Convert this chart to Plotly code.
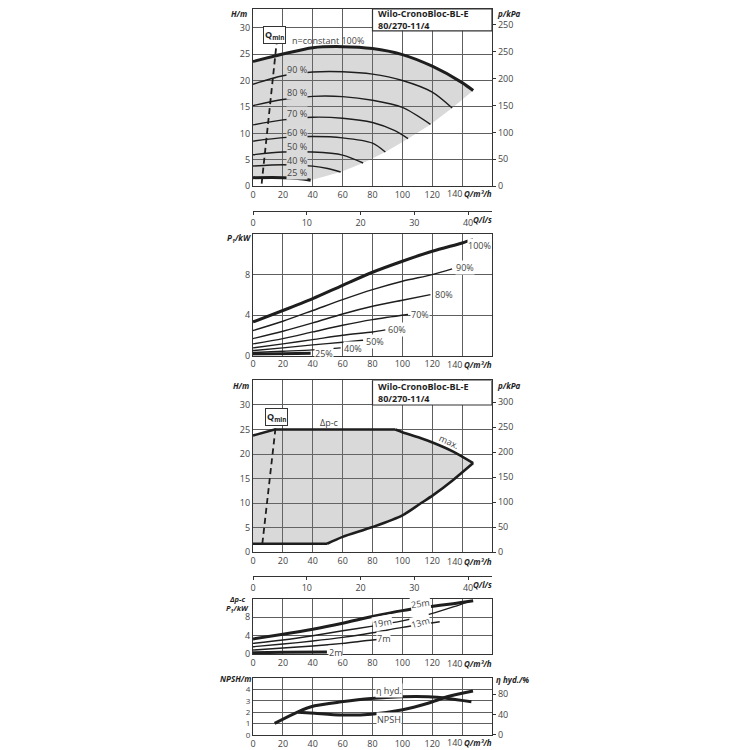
import plotly.graph_objects as go

# ---- data ----
# pump curves H(Q) at constant speed, Q in m3/h, H in m
q100 = [0, 20, 40, 60, 80, 100, 120, 140, 147.4]
h100 = [23.6, 25.0, 26.2, 26.4, 26.05, 24.9, 22.7, 19.6, 18.1]
q90 = [0, 20, 40, 60, 80, 100, 120, 133.3]
h90 = [19.3, 20.9, 21.6, 21.65, 21.2, 20.0, 17.8, 14.8]
q80 = [0, 20, 40, 60, 80, 100, 118.8]
h80 = [15.25, 16.4, 17.0, 16.95, 16.26, 14.9, 11.7]
q70 = [0, 20, 40, 60, 80, 95, 103.8]
h70 = [11.6, 12.55, 13.06, 12.87, 12.05, 10.5, 9.0]
q60 = [0, 20, 40, 60, 80, 88.6]
h60 = [8.54, 9.2, 9.4, 9.16, 8.16, 6.47]
q50 = [0, 20, 40, 60, 73.7]
h50 = [5.96, 6.47, 6.47, 5.9, 4.4]
q40 = [0, 20, 40, 50, 58.7]
h40 = [3.83, 4.08, 3.8, 3.35, 2.7]
q25 = [0, 20, 30, 38.6]
h25 = [1.63, 1.63, 1.45, 1.13]
speed_labels = ["90 %", "80 %", "70 %", "60 %", "50 %", "40 %", "25 %"]
speed_label_h = [22.0, 17.7, 13.75, 10.1, 7.53, 4.83, 2.57]

# power P1(Q) per speed, kW
pq100 = [0, 20, 40, 60, 80, 100, 120, 140, 147.4]
p100 = [3.33, 4.46, 5.64, 6.96, 8.25, 9.34, 10.33, 11.15, 11.5]
pq90 = [0, 20, 40, 60, 80, 100, 120, 133.3]
p90 = [2.48, 3.4, 4.46, 5.54, 6.53, 7.36, 8.02, 8.58]
pq80 = [0, 20, 40, 60, 80, 100, 118.8]
p80 = [1.68, 2.41, 3.23, 4.12, 4.88, 5.48, 6.04]
pq70 = [0, 20, 40, 60, 80, 103.8]
p70 = [1.16, 1.68, 2.34, 3.0, 3.56, 4.06]
pq60 = [0, 20, 40, 60, 80, 88.6]
p60 = [0.76, 1.16, 1.58, 2.01, 2.34, 2.54]
pq50 = [0, 20, 40, 60, 73.7]
p50 = [0.5, 0.76, 1.06, 1.32, 1.52]
pq40 = [0, 20, 40, 58.7]
p40 = [0.3, 0.43, 0.56, 0.76]
pq25 = [0, 20, 38.6]
p25 = [0.13, 0.17, 0.23]
power_labels = ["100%", "90%", "80%", "70%", "60%", "50%", "40%", "25%"]
power_label_q = [151.5, 135, 121, 105, 90, 75, 60, 41]
power_label_p = [10.9, 8.75, 6.04, 4.06, 2.54, 1.42, 0.7, 0.17]

# delta-p-c operating field
dpc_top_q = [0, 14.5, 95.3]
dpc_top_h = [23.77, 25.0, 25.0]
dpc_max_q = [95.3, 100, 111.6, 120.6, 134, 147.4]
dpc_max_h = [25.0, 24.45, 23.3, 22.3, 20.5, 18.15]
dpc_min_q = [147.4, 134, 120.6, 111.6, 100, 80, 60, 49.6]
dpc_min_h = [18.15, 14.7, 11.6, 9.8, 7.5, 5.1, 3.1, 1.7]
dpc_bot_q = [49.6, 0]
dpc_bot_h = [1.7, 1.7]

# power P1(Q) for delta-p-c set points
dq25m = [0, 20, 40, 60, 80, 100, 117, 134, 147.4]
dp25m = [3.3, 4.3, 5.4, 6.7, 8.15, 9.4, 10.2, 10.9, 11.55]
dq19m = [0, 20, 40, 60, 80, 100, 116, 134, 145]
dp19m = [2.36, 3.07, 4.0, 5.07, 6.07, 7.2, 8.4, 10.2, 11.4]
dq13m = [0, 20, 40, 60, 80, 100, 125]
dp13m = [1.64, 2.21, 2.86, 3.64, 4.64, 5.79, 7.0]
dq7m = [0, 20, 40, 60, 80, 89.3]
dp7m = [0.93, 1.36, 1.79, 2.36, 3.07, 3.29]
dq2m = [0, 20, 49.5]
dp2m = [0.36, 0.43, 0.5]
setpoint_labels = ["25m", "19m", "13m", "7m", "2m"]
setpoint_label_q = [112, 87, 112, 87.5, 55.5]
setpoint_label_p = [10.9, 6.9, 6.85, 3.46, 0.43]
setpoint_label_angle = [-8, -10, -15, 0, 0]

# NPSH and hydraulic efficiency
eta_q = [14.5, 30.1, 41.3, 59.2, 79.2, 99.3, 117.2, 130.6, 146.2]
eta_v = [22.8, 45.6, 57.3, 65.1, 71.6, 74.9, 74.9, 71.6, 65.1]
npsh_q = [30.1, 41.3, 59.2, 79.2, 99.3, 117.2, 130.6, 147.3]
npsh_v = [2.0, 1.9, 1.75, 1.82, 2.19, 2.78, 3.37, 3.86]

# Qmin lines
qmin1_q = [5.8, 16.0]
qmin1_h = [0.5, 27.6]
qmin3_q = [6.25, 15.6]
qmin3_h = [1.7, 26.7]

x_ticks = [0, 20, 40, 60, 80, 100, 120, 140]
x_text = ["0", "20", "40", "60", "80", "100", "120", ""]
ls_ticks = [0, 10, 20, 30, 40]
kpa_ticks = [0, 50, 100, 150, 200, 250, 300]
kpa_text_top = ["0", "50", "100", "150", "200", "250", "250"]
kpa_text_mid = ["0", "50", "100", "150", "200", "250", "300"]
model = "<b>Wilo-CronoBloc-BL-E<br>80/270-11/4</b>"

# ---- styling ----
FONT = "Open Sans"
INK = "#1e1e1e"
GRID = "#5e5e5e"
TXT = "#444"
FILL = "rgba(120,120,120,0.28)"
LABEL_BG = "#dadada"

# the page puts the figure 8px in from the window corner; positions below are
# given in window pixels and converted here
def fx(sx):
    return (sx - 253) / 239


def fy(sy):
    return (737 - sy) / 729


fig = go.Figure()


def curve(x, y, xa, ya, width=1.4, dash=None, shape="spline"):
    fig.add_trace(go.Scatter(x=x, y=y, xaxis=xa, yaxis=ya, mode="lines",
                             line=dict(color=INK, width=width, dash=dash, shape=shape,
                                       smoothing=0.8),
                             hoverinfo="skip", showlegend=False))


def dummy(xa, ya):
    fig.add_trace(go.Scatter(x=[0], y=[0], xaxis=xa, yaxis=ya, mode="markers",
                             marker=dict(opacity=0), hoverinfo="skip", showlegend=False))


# panel 1: H(Q) speed curves
end_q = [q90[-1], q80[-1], q70[-1], q60[-1], q50[-1], q40[-1]]
end_h = [h90[-1], h80[-1], h70[-1], h60[-1], h50[-1], h40[-1]]
field_q = q100 + end_q + q25[::-1]
field_h = h100 + end_h + h25[::-1]
fig.add_trace(go.Scatter(x=field_q, y=field_h, xaxis="x", yaxis="y", mode="lines",
                         fill="toself", fillcolor=FILL, line=dict(width=0),
                         hoverinfo="skip", showlegend=False))
curve(q100, h100, "x", "y", width=3)
for qq, hh in [(q90, h90), (q80, h80), (q70, h70), (q60, h60), (q50, h50), (q40, h40)]:
    curve(qq, hh, "x", "y")
curve(q25, h25, "x", "y", width=3)
curve(qmin1_q, qmin1_h, "x", "y", width=1.8, dash="6px,4px", shape="linear")
dummy("x", "y2")
dummy("x2", "y")

# panel 2: power per speed
for qq, pp in [(pq90, p90), (pq80, p80), (pq70, p70), (pq60, p60), (pq50, p50), (pq40, p40)]:
    curve(qq, pp, "x3", "y3")
curve(pq100, p100, "x3", "y3", width=3)
curve(pq25, p25, "x3", "y3", width=3)

# panel 3: delta-p-c field
poly_q = dpc_top_q + dpc_max_q[1:] + dpc_min_q[1:] + dpc_bot_q[1:]
poly_h = dpc_top_h + dpc_max_h[1:] + dpc_min_h[1:] + dpc_bot_h[1:]
fig.add_trace(go.Scatter(x=poly_q, y=poly_h, xaxis="x4", yaxis="y4", mode="lines",
                         fill="toself", fillcolor=FILL, line=dict(width=0),
                         hoverinfo="skip", showlegend=False))
curve(dpc_top_q, dpc_top_h, "x4", "y4", width=2.6, shape="linear")
curve(dpc_max_q, dpc_max_h, "x4", "y4", width=2.6)
curve(dpc_min_q, dpc_min_h, "x4", "y4", width=2.6)
curve(dpc_bot_q, dpc_bot_h, "x4", "y4", width=2.6, shape="linear")
curve(qmin3_q, qmin3_h, "x4", "y4", width=1.8, dash="6px,4px", shape="linear")
dummy("x4", "y5")
dummy("x5", "y4")

# panel 4: power for delta-p-c set points
curve(dq19m, dp19m, "x6", "y6")
curve(dq13m, dp13m, "x6", "y6")
curve(dq7m, dp7m, "x6", "y6")
curve(dq25m, dp25m, "x6", "y6", width=3)
curve(dq2m, dp2m, "x6", "y6", width=3)

# panel 5: NPSH and efficiency
curve(npsh_q, npsh_v, "x7", "y7", width=3)
curve(eta_q, eta_v, "x7", "y8", width=3)

# ---- axes ----
tick_font = dict(family=FONT, size=9, color=TXT)
small_font = dict(family=FONT, size=8, color=TXT)
base = dict(showline=True, linecolor="#333", linewidth=1.2, mirror=True,
            showgrid=True, gridcolor=GRID, gridwidth=0.8, zeroline=False,
            ticks="", tickfont=tick_font, fixedrange=True)


def xq(anchor):
    return dict(base, anchor=anchor, domain=[0, 1], range=[0, 160],
                tickvals=x_ticks, ticktext=x_text)


H1_TOP = (186 - 8) / 5.31   # top panel starts at the window's 8px body offset
d1 = [fy(186), 1]
d2 = [fy(356), fy(234.3)]
d3 = [fy(553.3), fy(381)]
d4 = [fy(656), fy(600)]
d5 = [0, fy(679.7)]

right = dict(showline=True, linecolor="#333", linewidth=1.2, showgrid=False, zeroline=False,
             ticks="outside", ticklen=3, tickcolor="#333", tickfont=tick_font,
             side="right", fixedrange=True)
ls_axis = dict(showline=True, linecolor="#333", linewidth=1.2, showgrid=False, zeroline=False,
               ticks="outside", ticklen=3, tickcolor="#333", tickfont=tick_font,
               anchor="free", range=[0, 160 / 3.6], tickvals=ls_ticks, fixedrange=True)

fig.update_layout(
    xaxis=xq("y"),
    yaxis=dict(base, anchor="x", domain=d1, range=[0, H1_TOP],
               tickvals=[0, 5, 10, 15, 20, 25, 30]),
    yaxis2=dict(right, overlaying="y", anchor="x", range=[0, H1_TOP * 9.81],
                tickvals=kpa_ticks, ticktext=kpa_text_top),
    xaxis2=dict(ls_axis, overlaying="x", position=fy(210.7)),
    xaxis3=xq("y3"),
    yaxis3=dict(base, anchor="x3", domain=d2, range=[0, 12], tickvals=[0, 4, 8]),
    xaxis4=xq("y4"),
    yaxis4=dict(base, anchor="x4", domain=d3, range=[0, 35], tickvals=[0, 5, 10, 15, 20, 25, 30]),
    yaxis5=dict(right, overlaying="y4", anchor="x4", range=[0, 35 * 9.81],
                tickvals=kpa_ticks, ticktext=kpa_text_mid),
    xaxis5=dict(ls_axis, overlaying="x4", position=fy(577.3)),
    xaxis6=xq("y6"),
    yaxis6=dict(base, anchor="x6", domain=d4, range=[0, 12], tickvals=[0, 4, 8]),
    xaxis7=xq("y7"),
    yaxis7=dict(base, anchor="x7", domain=d5, range=[0, 5], tickvals=[0, 1, 2, 3, 4],
                tickfont=small_font),
    yaxis8=dict(right, overlaying="y7", anchor="x7", range=[0, 112], tickvals=[0, 40, 80]),
    width=742, height=742,
    margin=dict(l=245, r=258, t=0, b=13),
    paper_bgcolor="white", plot_bgcolor="white",
    font=dict(family=FONT, size=9, color=TXT),
    showlegend=False,
)

# ---- boxes ----
for xr, yr, y0, y1 in [("x", "y", 29.4, H1_TOP), ("x4", "y4", 30, 35)]:
    fig.add_shape(type="rect", xref=xr, yref=yr, x0=80, x1=160, y0=y0, y1=y1,
                  fillcolor="white", line=dict(color="#333", width=1.2), layer="above")
    fig.add_annotation(xref=xr, yref=yr, x=82.5, y=(y0 + y1) / 2, text=model, showarrow=False,
                       xanchor="left", yanchor="middle", align="left",
                       font=dict(family=FONT, size=9, color=INK))

ann = []


def label(text, x, y, xr="paper", yr="paper", xanchor="center", size=9, color=TXT,
          bg=None, angle=0, bold_italic=False):
    if bold_italic:
        text = "<b><i>" + text + "</i></b>"
        color = INK
        size = min(size, 8)
    d = dict(text=text, x=x, y=y, xref=xr, yref=yr, xanchor=xanchor, yanchor="middle",
             showarrow=False, font=dict(family=FONT, size=size, color=color),
             textangle=angle, borderpad=0)
    if bg:
        d["bgcolor"] = bg
    ann.append(d)


# Qmin boxes
for xr, yr, qx, qy in [("x", "y", 14.2, 28.6), ("x4", "y4", 15.7, 27.6)]:
    ann.append(dict(text="<b>Q<sub>min</sub></b>", x=qx, y=qy, xref=xr, yref=yr,
                    showarrow=False, font=dict(family=FONT, size=9, color=INK),
                    bgcolor="white", bordercolor="#333", borderwidth=1, borderpad=1))

label("n=constant 100%", 25.5, 27.5, "x", "y", xanchor="left")
for t, hy in zip(speed_labels, speed_label_h):
    label(t, 22, hy, "x", "y", xanchor="left", bg=LABEL_BG)
for t, qx, py in zip(power_labels, power_label_q, power_label_p):
    if t == "100%":
        label(t, qx, py, "x3", "y3", bg="white")
    else:
        label(t, qx, py, "x3", "y3", xanchor="left", bg="white")
label("Δp-c", 51, 26.4, "x4", "y4")
label("max.", 131, 22.6, "x4", "y4", angle=25)
for t, qx, py, a in zip(setpoint_labels, setpoint_label_q, setpoint_label_p, setpoint_label_angle):
    label(t, qx, py, "x6", "y6", angle=a, bg="white")
label("η hyd.", 91, 3.86, "x7", "y7", bg="white")
label("NPSH", 91, 1.4, "x7", "y7", bg="white")

# last x tick label sits left of its gridline, next to the axis name
for sy in [193.3, 364.5, 562.5, 665.5, 745]:
    label("140", fx(463), fy(sy), xanchor="right")
    label("Q/m³/h", fx(493), fy(sy), xanchor="right", bold_italic=True)
label("Q/l/s", fx(493), fy(219), xanchor="right", bold_italic=True)
label("Q/l/s", fx(493), fy(586), xanchor="right", bold_italic=True)

# axis titles
label("H/m", fx(248), fy(13), xanchor="right", bold_italic=True)
label("p/kPa", fx(496), fy(13), xanchor="left", bold_italic=True)
label("P<sub>1</sub>/kW", fx(252), fy(238.5), xanchor="right", bold_italic=True)
label("H/m", fx(250), fy(386), xanchor="right", bold_italic=True)
label("p/kPa", fx(496), fy(386), xanchor="left", bold_italic=True)
label("Δp-c", fx(246), fy(600), xanchor="right", size=7.5, bold_italic=True)
label("P<sub>1</sub>/kW", fx(250), fy(610), xanchor="right", size=7.5, bold_italic=True)
label("NPSH/m", fx(252), fy(680), xanchor="right", bold_italic=True)
label("η hyd./%", fx(495), fy(681), xanchor="left", bold_italic=True)

for a in ann:
    fig.add_annotation(**a)

fig.write_html("out.html")
